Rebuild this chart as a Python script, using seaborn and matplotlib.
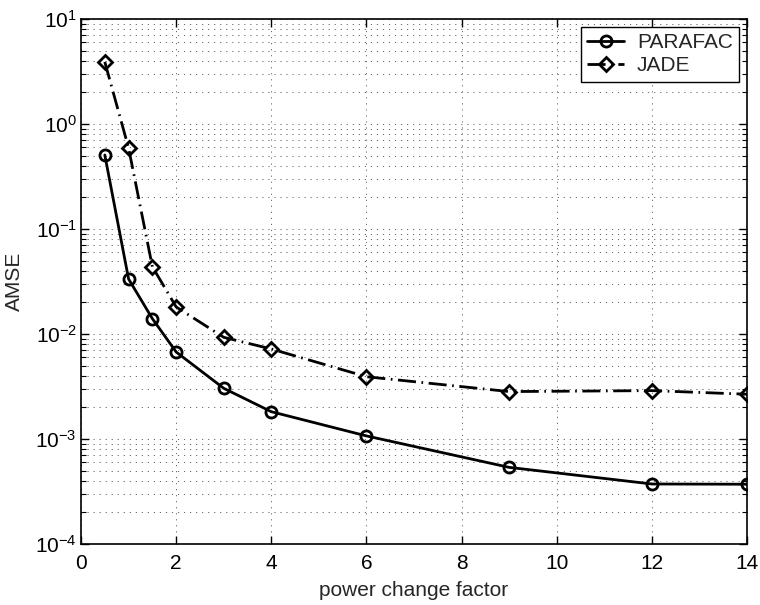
import numpy as np
import pandas as pd
import matplotlib
matplotlib.use("Agg")
import matplotlib.pyplot as plt
import seaborn as sns
from matplotlib.ticker import LogLocator, NullFormatter

# values
x_vals = [0.5, 1, 1.5, 2, 3, 4, 6, 9, 12, 14]
parafac = [0.507, 0.0334, 0.0140, 0.00674, 0.00304, 0.00182, 0.00107, 0.000537, 0.000373, 0.000371]
jade = [3.9, 0.59, 0.0437, 0.0181, 0.0093, 0.0072, 0.00392, 0.00283, 0.00289, 0.00267]
series_names = ["PARAFAC", "JADE"]
x_ticks = [0, 2, 4, 6, 8, 10, 12, 14]

sns.set_style("ticks")
plt.rcParams["font.family"] = ["Liberation Sans", "DejaVu Sans"]
plt.rcParams["mathtext.fontset"] = "custom"
plt.rcParams["mathtext.rm"] = "Liberation Sans"
plt.rcParams["mathtext.it"] = "Liberation Sans:italic"
plt.rcParams["font.size"] = 15

fig = plt.figure(figsize=(7.6, 6.05), dpi=100)
ax = fig.add_axes([0.1066, 0.1008, 0.8764, 0.8678])

df = pd.DataFrame({"x": x_vals * 2,
                   "amse": parafac + jade,
                   "method": [series_names[0]] * len(x_vals) + [series_names[1]] * len(x_vals)})

styles = {
    "PARAFAC": dict(marker="o", linestyle="-", markersize=8),
    "JADE": dict(marker="D", linestyle=(0, (6.5, 2, 0.6, 2)), markersize=7.5),
}
for name in series_names:
    sub = df[df["method"] == name]
    sns.lineplot(data=sub, x="x", y="amse", ax=ax, color="k", lw=2,
                 markerfacecolor="none", markeredgecolor="k", markeredgewidth=2,
                 sort=False, errorbar=None, label=name, **styles[name])

ax.set_yscale("log")
ax.set_xlim(0, 14)
ax.set_ylim(1e-4, 1e1)
ax.set_xticks(x_ticks)
ax.yaxis.set_major_locator(LogLocator(base=10, numticks=10))
ax.yaxis.set_minor_locator(LogLocator(base=10, subs=np.arange(2, 10), numticks=20))
ax.yaxis.set_minor_formatter(NullFormatter())

grid_kw = dict(color="0.4", linestyle=(0, (1.2, 5)), lw=0.7)
ax.grid(True, which="major", axis="both", **grid_kw)
ax.grid(True, which="minor", axis="y", **grid_kw)

ax.tick_params(which="both", direction="in", top=True, right=True, labelsize=15, colors="k")
ax.tick_params(which="major", length=6, width=1)
ax.tick_params(which="minor", length=3.5, width=0.8)
ax.tick_params(axis="x", which="major", pad=7)
ax.tick_params(axis="y", which="major", pad=3)
for sp in ax.spines.values():
    sp.set_linewidth(1.2)
    sp.set_color("k")

ax.set_xlabel("power change factor", fontsize=15, labelpad=6)
ax.set_ylabel("AMSE", fontsize=15, labelpad=8)

leg = ax.legend(loc="upper right", fontsize=15, frameon=True, fancybox=False,
                edgecolor="k", framealpha=1, handlelength=1.8, borderpad=0.3,
                labelspacing=0.2, handletextpad=0.6, borderaxespad=0,
                bbox_to_anchor=(0.988, 0.985))
leg.get_frame().set_linewidth(1.0)

fig.savefig("out.png", dpi=100)
